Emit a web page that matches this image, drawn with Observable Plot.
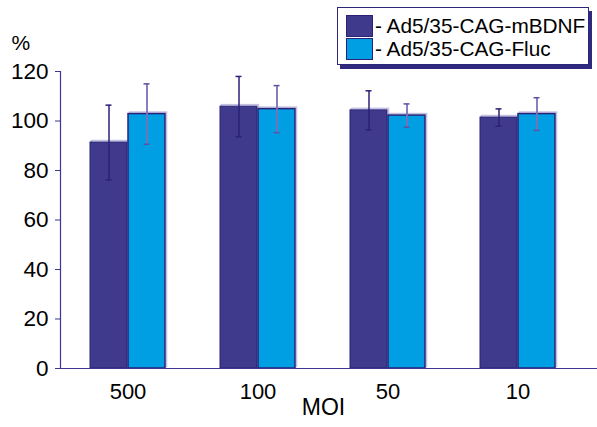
<!DOCTYPE html>
<html>
<head>
<meta charset="utf-8">
<script src="https://cdn.jsdelivr.net/npm/d3@7"></script>
<script src="https://cdn.jsdelivr.net/npm/@observablehq/plot@0.6"></script>
<style>
  body { margin: 0; background: white; }
  #wrap { position: relative; width: 597px; height: 427px; font-family: "Liberation Sans", Arial, sans-serif; }
  #legend { position: absolute; left: 337px; top: 7px; width: 252px; height: 58px; border: 1px solid #2c2678;
            box-shadow: 3px 4px 0 #2f2a80; background: white; box-sizing: border-box; }
  .row { position: absolute; left: 8px; height: 22px; display: flex; align-items: center; font-size: 20.8px; white-space: nowrap; }
  .sw { width: 27px; height: 22px; border: 1px solid #2a2278; box-sizing: border-box; margin-right: 2px; }
  .ylab text { font-size: 22.5px; }
</style>
</head>
<body>
<div id="wrap"></div>
<script>
const moi = ["500", "100", "50", "10"];
const seriesNames = ["Ad5/35-CAG-mBDNF", "Ad5/35-CAG-Fluc"];
const mbdnf = [91.3, 105.8, 104.3, 101.4];
const mbdnfErr = [15.1, 12.2, 7.9, 3.5];
const fluc = [102.8, 104.8, 102.2, 102.8];
const flucErr = [12.2, 9.5, 4.7, 6.6];
const yTicks = [0, 20, 40, 60, 80, 100, 120];

const colors = ["#3f3a8c", "#009fe3"];
const outline = "#2a2278";
const axisColor = "#3d3591";

const rowsA = moi.map((m, i) => ({moi: m, value: mbdnf[i], lo: mbdnf[i] - mbdnfErr[i], hi: mbdnf[i] + mbdnfErr[i]}));
const rowsB = moi.map((m, i) => ({moi: m, value: fluc[i], lo: fluc[i] - flucErr[i], hi: fluc[i] + flucErr[i]}));

const half = 38; // half of band width
const chart = Plot.plot({
  width: 597,
  height: 427,
  marginLeft: 60,
  marginRight: 11,
  marginTop: 71,
  marginBottom: 59,
  style: {fontFamily: "'Liberation Sans', Arial, sans-serif", fontSize: "22px", color: "black", background: "white"},
  x: {domain: moi, paddingInner: 0.42, paddingOuter: 0.22, axis: null},
  y: {domain: [0, 120], axis: null},
  marks: [
    // light shadows
    Plot.barY(rowsA, {x: "moi", y: "value", insetRight: half, fill: "none", stroke: "#c4c0e2", strokeWidth: 1.5, dx: 1.5, dy: -1.5}),
    Plot.barY(rowsB, {x: "moi", y: "value", insetLeft: half, fill: "none", stroke: "#c4c0e2", strokeWidth: 1.5, dx: 1.5, dy: -1.5}),
    Plot.barY(rowsA, {x: "moi", y: "value", insetRight: half, fill: colors[0], stroke: outline, strokeWidth: 1}),
    Plot.barY(rowsB, {x: "moi", y: "value", insetLeft: half, fill: colors[1], stroke: outline, strokeWidth: 1.5}),
    // error bars
    Plot.ruleX(rowsA, {x: "moi", y1: "lo", y2: "hi", dx: -19, stroke: outline, strokeWidth: 1.5}),
    Plot.tickY(rowsA, {x: "moi", y: "lo", insetLeft: 15.5, insetRight: 53.5, stroke: outline, strokeWidth: 1.5}),
    Plot.tickY(rowsA, {x: "moi", y: "hi", insetLeft: 15.5, insetRight: 53.5, stroke: outline, strokeWidth: 1.5}),
    Plot.ruleX(rowsB, {x: "moi", y1: "lo", y2: "hi", dx: 19, stroke: "#7a72b8", strokeWidth: 1.8}),
    Plot.tickY(rowsB, {x: "moi", y: "lo", insetLeft: 53.5, insetRight: 15.5, stroke: "#5a52a4", strokeWidth: 1.5}),
    Plot.tickY(rowsB, {x: "moi", y: "hi", insetLeft: 53.5, insetRight: 15.5, stroke: "#5a52a4", strokeWidth: 1.5}),
    // axes
    Plot.frame({anchor: "left", stroke: axisColor, strokeWidth: 1.2}),
    Plot.ruleY([0], {stroke: axisColor, strokeWidth: 1.2, insetRight: -11}),
    Plot.axisY({ticks: yTicks, tickSize: 5, tickPadding: 7, stroke: axisColor, fill: "black", fontSize: 22.5, label: null, className: "ylab"}),
    Plot.axisX({tickSize: 0, tickPadding: 15, fontSize: 22, label: null}),
    Plot.text(["MOI"], {frameAnchor: "bottom", dy: 46, fontSize: 23, fill: "black"}),
    Plot.text(["%"], {frameAnchor: "top-left", textAnchor: "start", dx: -49, dy: -36, fontSize: 21, fill: "black"})
  ]
});
const wrap = document.getElementById("wrap");
wrap.appendChild(chart);

const legend = document.createElement("div");
legend.id = "legend";
seriesNames.forEach((name, i) => {
  const row = document.createElement("div");
  row.className = "row";
  row.style.top = (7 + i * 23) + "px";
  const sw = document.createElement("div");
  sw.className = "sw";
  sw.style.background = colors[i];
  row.appendChild(sw);
  const t = document.createElement("span");
  t.textContent = "- " + name;
  row.appendChild(t);
  legend.appendChild(row);
});
wrap.appendChild(legend);
</script>
</body>
</html>
